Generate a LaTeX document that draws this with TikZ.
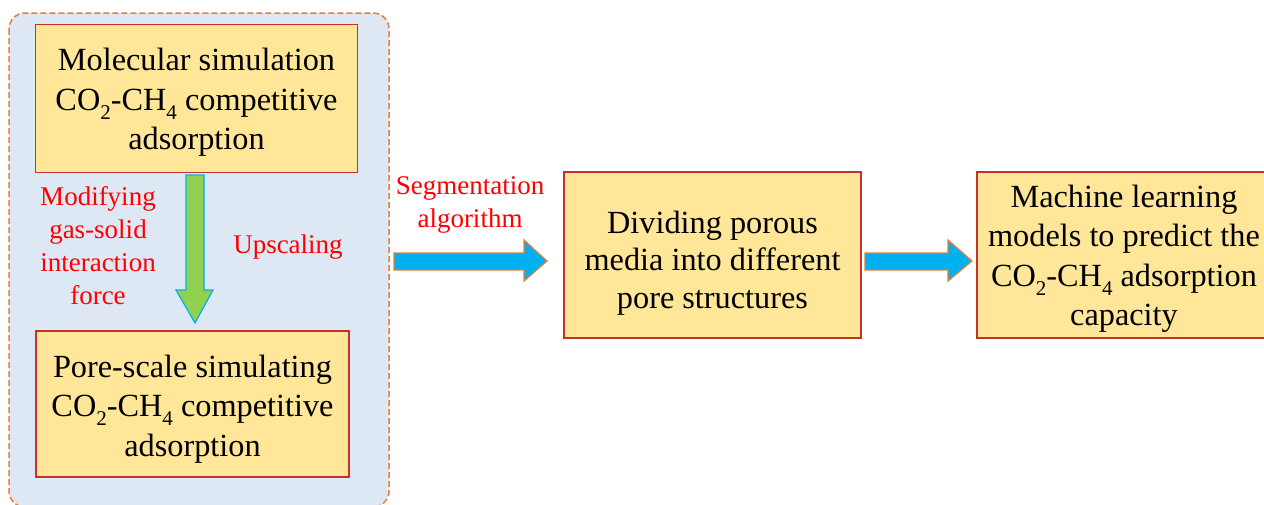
\documentclass[tikz,border=0pt]{standalone}
\usepackage{fontspec}
\setmainfont{Liberation Serif}
\newcommand{\mysub}[1]{\raisebox{-0.28em}{\fontsize{21}{21}\selectfont #1}}
\begin{document}
\begin{tikzpicture}[x=1pt,y=-1pt]
\definecolor{boxfill}{HTML}{FFE699}
\definecolor{boxline}{HTML}{C8302C}
\definecolor{bgblue}{HTML}{DEE8F5}
\definecolor{dashor}{HTML}{ED7D31}
\definecolor{arrblue}{HTML}{00B0F0}
\definecolor{arrgreen}{HTML}{92D050}
\tikzset{
 box/.style={draw=boxline, line width=1.3pt, fill=boxfill, inner sep=0pt},
 boxtext/.style={align=center, inner sep=0pt, font=\fontsize{32.3}{39.5}\selectfont},
 redlabel/.style={align=center, text=red, font=\fontsize{27}{33}\selectfont},
 bluearrow/.style={fill=arrblue, draw=dashor, line width=1.2pt, line join=miter},
 greenarrow/.style={fill=arrgreen, draw=arrblue, line width=1.2pt, line join=miter},
}
\useasboundingbox (0,0) rectangle (1264,504);
\clip (0,0) rectangle (1264,504);
\draw[dashor, dash pattern=on 6pt off 3pt, line width=1.5pt, fill=bgblue, rounded corners=16pt] (9,13) rectangle (389,507);

\node[box, minimum width=322pt, minimum height=148pt] (b1) at (196.5,98.5) {};
\node[box, minimum width=313pt, minimum height=146pt] (b2) at (192.5,404) {};
\node[box, minimum width=297pt, minimum height=166pt] (b3) at (712.5,255) {};
\node[box, minimum width=294pt, minimum height=166pt] (b4) at (1124,255) {};

\node[boxtext] (t1) at ([yshift=-4pt]b1.center)
  {Molecular simulation\\CO\mysub{2}-CH\mysub{4} competitive\\adsorption};
\node[boxtext] (t2) at ([yshift=-5pt]b2.center)
  {Pore-scale simulating\\CO\mysub{2}-CH\mysub{4} competitive\\adsorption};
\node[boxtext, font=\fontsize{32.3}{37.5}\selectfont] (t3) at ([yshift=-8pt]b3.center)
  {Dividing porous\\media into different\\pore structures};
\node[boxtext] (t4) at ([yshift=-4pt]b4.center)
  {Machine learning\\models to predict the\\CO\mysub{2}-CH\mysub{4} adsorption\\capacity};

\node[redlabel] (lmod) at (98,246) {Modifying\\gas-solid\\interaction\\force};
\node[redlabel] (lup) at (288,247) {Upscaling};
\node[redlabel] (lseg) at (470,205) {Segmentation\\algorithm};

\draw[greenarrow] (186,175) -- (204,175) -- (204,290) -- (213,290) -- (195,323) -- (176,290) -- (186,290) -- cycle;
\draw[bluearrow] (394,253) -- (524,253) -- (524,240) -- (547,261) -- (524,281) -- (524,270) -- (394,270) -- cycle;
\draw[bluearrow] (865,253) -- (948,253) -- (948,240) -- (972,261) -- (948,281) -- (948,270) -- (865,270) -- cycle;
\end{tikzpicture}
\end{document}
